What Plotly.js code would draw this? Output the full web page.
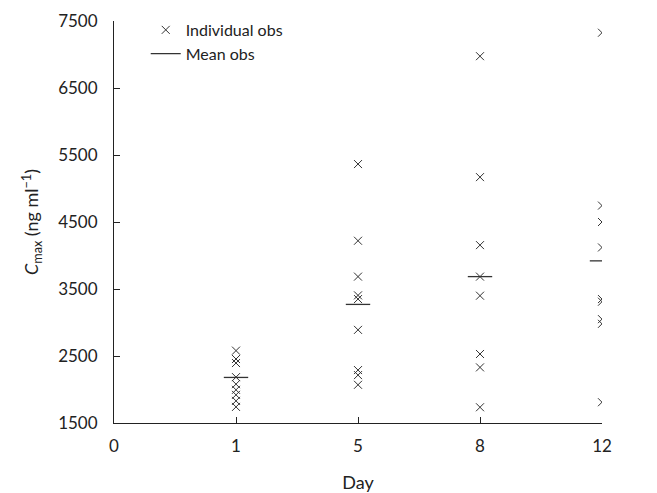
<!DOCTYPE html>
<html>
<head>
<meta charset="utf-8">
<script src="https://cdn.plot.ly/plotly-3.0.1.min.js"></script>
<style>html,body{margin:0;padding:0;background:#fff;}#chart{width:657px;height:493px;}</style>
</head>
<body>
<div id="chart"></div>
<script>
// Day categories (tick labels)
var days = ["0", "1", "5", "8", "12"];
// Individual observations per day (Cmax, ng/ml)
var day1Obs = [2580, 2455, 2395, 2185, 2080, 1995, 1920, 1830, 1740];
var day5Obs = [5365, 4220, 3685, 3405, 3350, 2890, 2290, 2215, 2070];
var day8Obs = [6975, 5170, 4155, 3685, 3400, 2530, 2330, 1735];
var day12Obs = [7325, 4745, 4500, 4120, 3350, 3310, 3050, 2980, 1810];
// Mean observations per day
var meanDays = ["1", "5", "8", "12"];
var meanObs = [2180, 3270, 3685, 3920];

var obsGroups = [day1Obs, day5Obs, day8Obs, day12Obs];
var xs = [], ys = [];
obsGroups.forEach(function (g, gi) {
  var xi = days.indexOf(meanDays[gi]);
  g.forEach(function (v) { xs.push(xi); ys.push(v); });
});

var halfW = 0.1;
var mx = [], my = [];
meanObs.forEach(function (m, i) {
  var xi = days.indexOf(meanDays[i]);
  mx.push(xi - halfW, xi + halfW, null);
  my.push(m, m, null);
});

var font = {family: "Lato, 'Open Sans', sans-serif", size: 17, color: "#222"};
var titleFont = {family: "Lato, 'Open Sans', sans-serif", size: 18, color: "#222"};

var traces = [
  {
    x: xs, y: ys, mode: "markers", type: "scatter", name: "Individual obs",
    marker: {symbol: "x-thin-open", size: 8, color: "#333", line: {width: 1, color: "#333"}},
    hoverinfo: "y"
  },
  {
    x: mx, y: my, mode: "lines", type: "scatter", name: "Mean obs",
    line: {color: "#333", width: 1.3}, connectgaps: false, hoverinfo: "skip"
  }
];

var layout = {
  width: 657, height: 493,
  margin: {l: 114, r: 55, t: 21, b: 70},
  paper_bgcolor: "#fff", plot_bgcolor: "#fff",
  font: font,
  showlegend: true,
  legend: {
    x: 0.065, y: 1.02, xanchor: "left", yanchor: "top", itemwidth: 30,
    bgcolor: "rgba(0,0,0,0)", font: {family: font.family, size: 16, color: "#222"}, tracegroupgap: 0
  },
  xaxis: {
    range: [0, 4], tickmode: "array",
    tickvals: days.map(function (d, i) { return i; }), ticktext: days,
    showgrid: false, zeroline: false, showline: true, linecolor: "#222", linewidth: 1,
    ticks: "inside", ticklen: 6, tickcolor: "#222", tickwidth: 1,
    tickfont: font, ticklabelstandoff: 8,
    title: {text: "Day", font: titleFont, standoff: 20}
  },
  yaxis: {
    range: [1500, 7500], tickmode: "array",
    tickvals: [1500, 2500, 3500, 4500, 5500, 6500, 7500],
    ticktext: ["1500", "2500", "3500", "4500", "5500", "6500", "7500"],
    showgrid: false, zeroline: false, showline: true, linecolor: "#222", linewidth: 1,
    ticks: "inside", ticklen: 6, tickcolor: "#222", tickwidth: 1,
    tickfont: font, ticklabelstandoff: 12,
    title: {text: "<i>C</i><sub>max</sub> (ng ml<sup>−1</sup>)", font: titleFont, standoff: 14}
  }
};

Plotly.newPlot("chart", traces, layout, {displayModeBar: false, staticPlot: true});
</script>
</body>
</html>
